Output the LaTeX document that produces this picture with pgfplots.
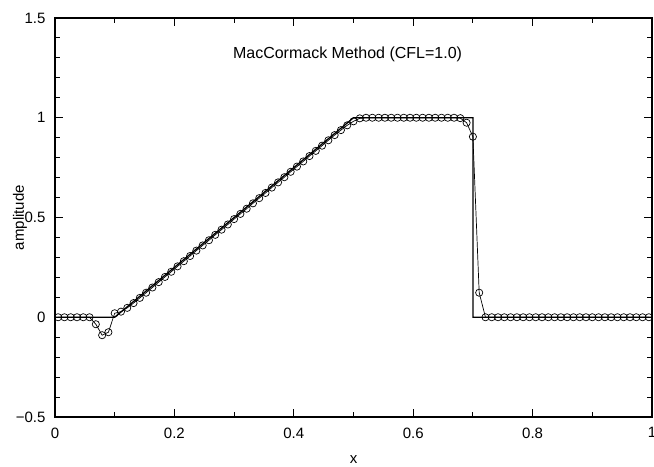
\documentclass[border=0pt]{standalone}
\usepackage{fontspec}
\setmainfont{Liberation Sans}
\usepackage{pgfplots}
\pgfplotsset{compat=1.18}
\usetikzlibrary{calc}
\begin{document}
\begin{tikzpicture}
\begin{axis}[
  scale only axis, width=597pt, height=399pt,
  xmin=0, xmax=1, ymin=-0.5, ymax=1.5,
  xtick={0,0.2,0.4,0.6,0.8,1}, xticklabels={0,0.2,0.4,0.6,0.8,1},
  ytick={-0.5,0,0.5,1,1.5}, yticklabels={−0.5,0,0.5,1,1.5},
  minor x tick num=1, minor y tick num=4,
  tick align=inside,
  major tick length=8pt, minor tick length=5pt,
  every tick/.style={black, line width=0.9pt},
  axis line style={line width=1.1pt},
  font=\fontsize{15}{18}\selectfont,
  /pgf/number format/assume math mode=true,
  xticklabel style={yshift=-7pt},
  yticklabel style={xshift=-6pt},
  xlabel={x}, ylabel={amplitude},
  xlabel style={at={(axis description cs:0.5,0)}, anchor=center, yshift=-43pt},
  ylabel style={at={(axis description cs:-0.0586,0.5)}, anchor=center},
]
\addplot[black, line width=1.3pt] coordinates {(0,0) (0.1,0) (0.5,1) (0.7,1) (0.7,0) (1,0)};
\addplot[black, line width=0.7pt, mark=o, mark size=3.6pt, mark options={line width=0.7pt}] coordinates {
(0.00526,0) (0.01579,0) (0.02632,0) (0.03684,0) (0.04737,0) (0.05789,0)
(0.06842,-0.035) (0.07895,-0.09) (0.08947,-0.075) (0.1,0.02)
(0.11053,0.028) (0.12105,0.047) (0.13158,0.071) (0.14211,0.097) (0.15263,0.123)
(0.16316,0.149) (0.17368,0.176) (0.18421,0.202) (0.19474,0.228) (0.20526,0.255)
(0.21579,0.281) (0.22632,0.307) (0.23684,0.334) (0.24737,0.360) (0.25789,0.386)
(0.26842,0.413) (0.27895,0.439) (0.28947,0.465) (0.3,0.492) (0.31053,0.518)
(0.32105,0.544) (0.33158,0.571) (0.34211,0.597) (0.35263,0.623) (0.36316,0.650)
(0.37368,0.676) (0.38421,0.702) (0.39474,0.729) (0.40526,0.755) (0.41579,0.781)
(0.42632,0.808) (0.43684,0.834) (0.44737,0.860) (0.45789,0.887) (0.46842,0.913)
(0.47895,0.938) (0.48947,0.962) (0.5,0.982) (0.51053,0.997) (0.52105,1)
(0.53158,1) (0.54211,1) (0.55263,1) (0.56316,1) (0.57368,1) (0.58421,1)
(0.59474,1) (0.60526,1) (0.61579,1) (0.62632,1) (0.63684,1) (0.64737,1)
(0.65789,1) (0.66842,1) (0.67895,0.998) (0.68947,0.975) (0.7,0.905)
(0.71053,0.123) (0.72105,0) (0.73158,0) (0.74211,0) (0.75263,0) (0.76316,0)
(0.77368,0) (0.78421,0) (0.79474,0) (0.80526,0) (0.81579,0) (0.82632,0)
(0.83684,0) (0.84737,0) (0.85789,0) (0.86842,0) (0.87895,0) (0.88947,0)
(0.9,0) (0.91053,0) (0.92105,0) (0.93158,0) (0.94211,0) (0.95263,0)
(0.96316,0) (0.97368,0) (0.98421,0) (0.99474,0)
};
\node[font=\fontsize{16}{19}\selectfont] at (axis cs:0.49,1.32) {MacCormack Method (CFL=1.0)};
\end{axis}
\pgfresetboundingbox
\path ($(current axis.south west)+(-55pt,-50pt)$) rectangle ($(current axis.north east)+(2pt,18pt)$);
\end{tikzpicture}
\end{document}
